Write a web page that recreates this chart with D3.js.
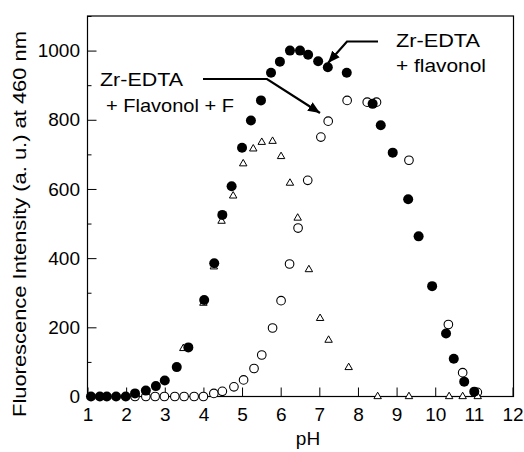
<!DOCTYPE html>
<html lang="en">
<head>
<meta charset="utf-8">
<title>Fluorescence vs pH</title>
<script src="https://cdn.jsdelivr.net/npm/d3@7"></script>
<style>
  body { margin: 0; background: #fff; }
  text { font-family: "Liberation Sans", Arial, Helvetica, sans-serif; fill: #000; }
</style>
</head>
<body>
<script>
// Zr-EDTA + flavonol (filled circles)
var filledPH = [1.09,1.32,1.5,1.74,1.99,2.23,2.51,2.77,3.0,3.31,3.61,4.02,4.28,4.49,4.73,5.0,5.23,5.49,5.75,5.98,6.24,6.5,6.71,6.97,7.22,7.71,8.38,8.59,8.9,9.3,9.57,9.92,10.28,10.48,10.75,11.01];
var filledI  = [0,0,0,0,0,9,17,30,46,85,142,279,385,525,608,719,798,856,936,968,1000,1000,988,969,952,936,846,784,705,570,463,319,182,109,43,14];

// Zr-EDTA + flavonol + F- (open circles)
var openPH = [2.23,2.51,2.75,2.99,3.26,3.5,3.76,4.0,4.27,4.49,4.79,5.04,5.31,5.51,5.79,6.01,6.23,6.45,6.7,7.04,7.23,7.72,8.24,8.48,9.32,10.34,10.71,11.09];
var openI  = [0,0,0,0,0,0,0,0,9,15,28,48,81,120,198,277,383,487,625,750,796,856,851,851,683,208,69,12];

// third series (open triangles)
var triPH = [3.48,4.0,4.27,4.47,4.77,5.03,5.29,5.51,5.79,6.01,6.24,6.44,6.73,7.02,7.24,7.76,8.51,9.32,10.36,10.71,11.1];
var triI  = [139,270,375,507,580,673,716,735,738,694,617,516,367,226,163,84,0,0,0,0,0];

var xTicks = [1,2,3,4,5,6,7,8,9,10,11,12];
var yTicks = [0,200,400,600,800,1000];
var yMinor = [100,300,500,700,900,1100];

var w = 524, h = 452;

var xScale = d3.scaleLinear().domain([1,12]).range([87.5,512.5]);
var yScale = d3.scaleLinear().domain([0,1100]).range([396.5,16]);

var svg = d3.select("body").append("svg")
  .attr("width", w).attr("height", h);

function zip(a, b) { return a.map(function(v, i){ return [v, b[i]]; }); }

// axes, ticks point inward
var xAxis = svg.append("g")
  .attr("transform", "translate(0,396.5)")
  .call(d3.axisBottom(xScale).tickValues(xTicks).tickFormat(d3.format("d"))
        .tickSizeInner(-9).tickSizeOuter(0).tickPadding(11));
xAxis.select(".domain").remove();
xAxis.selectAll("text").style("font-size", "19px").style("font-family", null);

var yAxis = svg.append("g")
  .attr("transform", "translate(87.5,0)")
  .call(d3.axisLeft(yScale).tickValues(yTicks).tickFormat(d3.format("d"))
        .tickSizeInner(-9).tickSizeOuter(0).tickPadding(7.5));
yAxis.select(".domain").remove();
yAxis.selectAll("text").style("font-size", "19px").style("font-family", null);

var yAxisMinor = svg.append("g")
  .attr("transform", "translate(87.5,0)")
  .call(d3.axisLeft(yScale).tickValues(yMinor).tickSizeInner(-4).tickSizeOuter(0).tickFormat(""));
yAxisMinor.select(".domain").remove();

svg.selectAll(".tick line").attr("stroke", "#000");

// frame
svg.append("rect")
  .attr("x", 87.5).attr("y", 16)
  .attr("width", 426).attr("height", 380.5)
  .attr("fill", "none").attr("stroke", "#000").attr("stroke-width", 1.2);

// axis titles
svg.append("text")
  .attr("x", 308).attr("y", 445)
  .attr("text-anchor", "middle")
  .style("font-size", "19px")
  .text("pH");

svg.append("text")
  .attr("transform", "translate(26,224) rotate(-90)")
  .attr("text-anchor", "middle")
  .attr("textLength", 386).attr("lengthAdjust", "spacingAndGlyphs")
  .style("font-size", "18.5px")
  .text("Fluorescence Intensity (a. u.) at 460 nm");

// markers
svg.append("g").selectAll("circle")
  .data(zip(openPH, openI)).enter().append("circle")
  .attr("cx", function(d){ return xScale(d[0]); })
  .attr("cy", function(d){ return yScale(d[1]); })
  .attr("r", 4.3)
  .attr("fill", "#fff").attr("stroke", "#000").attr("stroke-width", 1.1);

var tri = d3.symbol().type(d3.symbolTriangle).size(24);
svg.append("g").selectAll("path")
  .data(zip(triPH, triI)).enter().append("path")
  .attr("d", tri)
  .attr("transform", function(d){ return "translate(" + xScale(d[0]) + "," + yScale(d[1]) + ")"; })
  .attr("fill", "#fff").attr("stroke", "#000").attr("stroke-width", 1);

svg.append("g").selectAll("circle")
  .data(zip(filledPH, filledI)).enter().append("circle")
  .attr("cx", function(d){ return xScale(d[0]); })
  .attr("cy", function(d){ return yScale(d[1]); })
  .attr("r", 5)
  .attr("fill", "#000");

// annotations
svg.append("defs").append("marker")
  .attr("id", "arrow")
  .attr("viewBox", "0 0 12 10")
  .attr("refX", 12).attr("refY", 5)
  .attr("markerWidth", 12).attr("markerHeight", 10)
  .attr("markerUnits", "userSpaceOnUse")
  .attr("orient", "auto")
  .append("path").attr("d", "M0,0L12,5L0,10Z").attr("fill", "#000");

svg.append("path")
  .attr("d", "M203,79L267,79L320,113")
  .attr("fill", "none").attr("stroke", "#000").attr("stroke-width", 2.2)
  .attr("marker-end", "url(#arrow)");

svg.append("path")
  .attr("d", "M378,41.5L347,41.5L328,63")
  .attr("fill", "none").attr("stroke", "#000").attr("stroke-width", 2.2)
  .attr("marker-end", "url(#arrow)");

var notes = [
  { t: "Zr-EDTA",        x: 100, y: 86,  len: 83 },
  { t: "+ Flavonol + F", x: 106, y: 112, len: 128 },
  { t: "Zr-EDTA",        x: 396, y: 47,  len: 84 },
  { t: "+ flavonol",     x: 396, y: 72,  len: 90 }
];
svg.append("g").selectAll("text")
  .data(notes).enter().append("text")
  .attr("x", function(d){ return d.x; })
  .attr("y", function(d){ return d.y; })
  .attr("textLength", function(d){ return d.len; })
  .attr("lengthAdjust", "spacingAndGlyphs")
  .style("font-size", "18.5px")
  .text(function(d){ return d.t; });
</script>
</body>
</html>
